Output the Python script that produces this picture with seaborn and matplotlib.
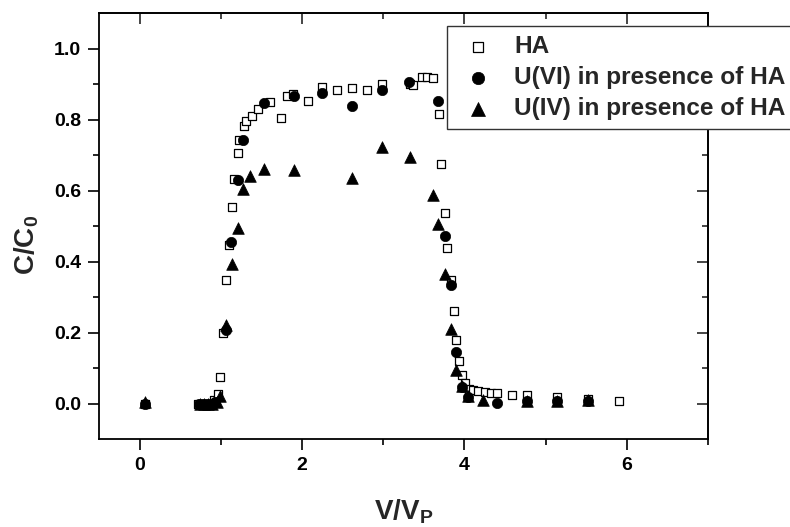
import matplotlib
matplotlib.use("Agg")
import matplotlib.pyplot as plt
from matplotlib.ticker import FixedLocator, NullFormatter
import seaborn as sns
import pandas as pd

# ---- data ----
ha_x = [0.07, 0.72, 0.77, 0.82, 0.87, 0.92, 0.96, 0.99, 1.03, 1.07, 1.10, 1.14, 1.16,
        1.21, 1.23, 1.28, 1.31, 1.38, 1.46, 1.60, 1.745, 1.81, 1.89, 2.07, 2.25, 2.43,
        2.61, 2.80, 2.98, 3.33, 3.37, 3.48, 3.54, 3.61, 3.69, 3.71, 3.76, 3.79, 3.83,
        3.87, 3.90, 3.93, 3.97, 4.01, 4.06, 4.10, 4.17, 4.25, 4.33, 4.40, 4.59, 4.77,
        5.14, 5.52, 5.90]
ha_y = [0.0, 0.0, 0.0, 0.0, 0.0, 0.01, 0.028, 0.074, 0.20, 0.347, 0.446, 0.554, 0.632,
        0.705, 0.743, 0.782, 0.795, 0.811, 0.83, 0.848, 0.804, 0.865, 0.872, 0.851, 0.892, 0.884,
        0.889, 0.884, 0.90, 0.90, 0.896, 0.92, 0.92, 0.917, 0.816, 0.674, 0.536, 0.437, 0.347,
        0.261, 0.178, 0.121, 0.081, 0.058, 0.042, 0.037, 0.035, 0.032, 0.030, 0.029, 0.025, 0.023,
        0.018, 0.013, 0.008]

u6_x = [0.07, 0.73, 0.78, 0.83, 0.88, 0.93, 1.07, 1.13, 1.21, 1.27, 1.53, 1.90, 2.25,
        2.61, 2.98, 3.32, 3.68, 3.76, 3.83, 3.90, 3.97, 4.04, 4.40, 4.77, 5.14, 5.52]
u6_y = [0.0, 0.0, 0.0, 0.0, 0.0, 0.005, 0.206, 0.454, 0.63, 0.743, 0.847, 0.865, 0.875,
        0.837, 0.884, 0.905, 0.853, 0.472, 0.333, 0.145, 0.046, 0.018, 0.002, 0.007, 0.006, 0.008]

u4_x = [0.07, 0.74, 0.79, 0.84, 0.89, 0.95, 0.99, 1.07, 1.14, 1.21, 1.27, 1.355, 1.53,
        1.90, 2.62, 2.98, 3.33, 3.61, 3.68, 3.76, 3.83, 3.90, 3.97, 4.05, 4.23, 4.77,
        5.14, 5.52]
u4_y = [0.003, 0.0, 0.0, 0.0, 0.0, 0.005, 0.02, 0.22, 0.393, 0.493, 0.603, 0.641, 0.66,
        0.658, 0.635, 0.722, 0.694, 0.586, 0.507, 0.366, 0.211, 0.093, 0.048, 0.021, 0.010, 0.007,
        0.007, 0.01]

labels = ["HA", "U(VI) in presence of HA", "U(IV) in presence of HA"]
x_major = [0, 2, 4, 6]
x_major_labels = ["0", "2", "4", "6"]
x_minor = [1, 3, 5, 7]
y_major = [0.0, 0.2, 0.4, 0.6, 0.8, 1.0]
y_major_labels = ["0.0", "0.2", "0.4", "0.6", "0.8", "1.0"]
y_minor = [0.1, 0.3, 0.5, 0.7, 0.9]

sns.set_theme(style="ticks")
plt.rcParams["font.family"] = ["Liberation Sans", "DejaVu Sans"]
plt.rcParams["font.weight"] = "bold"
plt.rcParams["mathtext.fontset"] = "custom"
plt.rcParams["mathtext.rm"] = "Liberation Sans:bold"
plt.rcParams["mathtext.bf"] = "Liberation Sans:bold"

fig = plt.figure(figsize=(7.9, 5.27), dpi=100)
ax = fig.add_axes([99 / 790, 1 - 439 / 527, (708 - 99) / 790, (439 - 13) / 527])

df_ha = pd.DataFrame({"x": ha_x, "y": ha_y})
df_u6 = pd.DataFrame({"x": u6_x, "y": u6_y})
df_u4 = pd.DataFrame({"x": u4_x, "y": u4_y})

sns.scatterplot(data=df_ha, x="x", y="y", ax=ax, marker="s", s=30,
                facecolor="white", edgecolor="black", linewidth=0.9, label=labels[0], zorder=3)
sns.scatterplot(data=df_u6, x="x", y="y", ax=ax, marker="o", s=55,
                color="black", edgecolor="black", linewidth=0.5, label=labels[1], zorder=4)
sns.scatterplot(data=df_u4, x="x", y="y", ax=ax, marker="^", s=70,
                color="black", edgecolor="black", linewidth=0.5, label=labels[2], zorder=5)

ax.set_xlim(-0.5, 7)
ax.set_ylim(-0.1, 1.1)
ax.set_xticks(x_major)
ax.set_xticklabels(x_major_labels)
ax.xaxis.set_minor_locator(FixedLocator(x_minor))
ax.set_yticks(y_major)
ax.set_yticklabels(y_major_labels)
ax.yaxis.set_minor_locator(FixedLocator(y_minor))
ax.tick_params(axis="both", which="major", direction="out", length=8, width=1.2,
               labelsize=14, pad=5, colors="black")
ax.tick_params(axis="both", which="minor", direction="out", length=4, width=1.2,
               colors="black")
for lab in ax.get_xticklabels() + ax.get_yticklabels():
    lab.set_fontweight("bold")

# mirrored inward ticks on top/right
sec_x = ax.secondary_xaxis("top")
sec_x.xaxis.set_major_locator(FixedLocator(x_major))
sec_x.xaxis.set_minor_locator(FixedLocator(x_minor))
sec_x.xaxis.set_major_formatter(NullFormatter())
sec_x.tick_params(which="major", direction="in", length=8, width=1.2)
sec_x.tick_params(which="minor", direction="in", length=4, width=1.2)
sec_y = ax.secondary_yaxis("right")
sec_y.yaxis.set_major_locator(FixedLocator(y_major))
sec_y.yaxis.set_minor_locator(FixedLocator(y_minor))
sec_y.yaxis.set_major_formatter(NullFormatter())
sec_y.tick_params(which="major", direction="in", length=8, width=1.2)
sec_y.tick_params(which="minor", direction="in", length=4, width=1.2)

for sp in ax.spines.values():
    sp.set_linewidth(1.3)
    sp.set_color("black")
    sp.set_visible(True)
sec_x.spines["top"].set_linewidth(1.3)
sec_y.spines["right"].set_linewidth(1.3)

ax.set_xlabel(r"V/V$_{\mathrm{P}}$", fontsize=20, fontweight="bold", labelpad=17)
ax.set_ylabel(r"C/C$_{\mathrm{0}}$", fontsize=20, fontweight="bold")
ax.yaxis.set_label_coords(-0.095, 0.455)

leg = ax.legend(loc="upper left", bbox_to_anchor=(447 / 790, 1 - 26 / 527),
                bbox_transform=fig.transFigure, borderaxespad=0, frameon=True,
                fancybox=False, shadow=False, prop={"size": 17.6, "weight": "bold"},
                borderpad=0.37, handlelength=1.8, handletextpad=0.57, labelspacing=0.33,
                markerscale=1.2)
leg.get_frame().set_edgecolor("#333333")
leg.get_frame().set_linewidth(1.0)
leg.get_frame().set_facecolor("white")
leg.get_frame().set_alpha(1)
leg.set_zorder(10)

fig.savefig("out.png", dpi=100)
